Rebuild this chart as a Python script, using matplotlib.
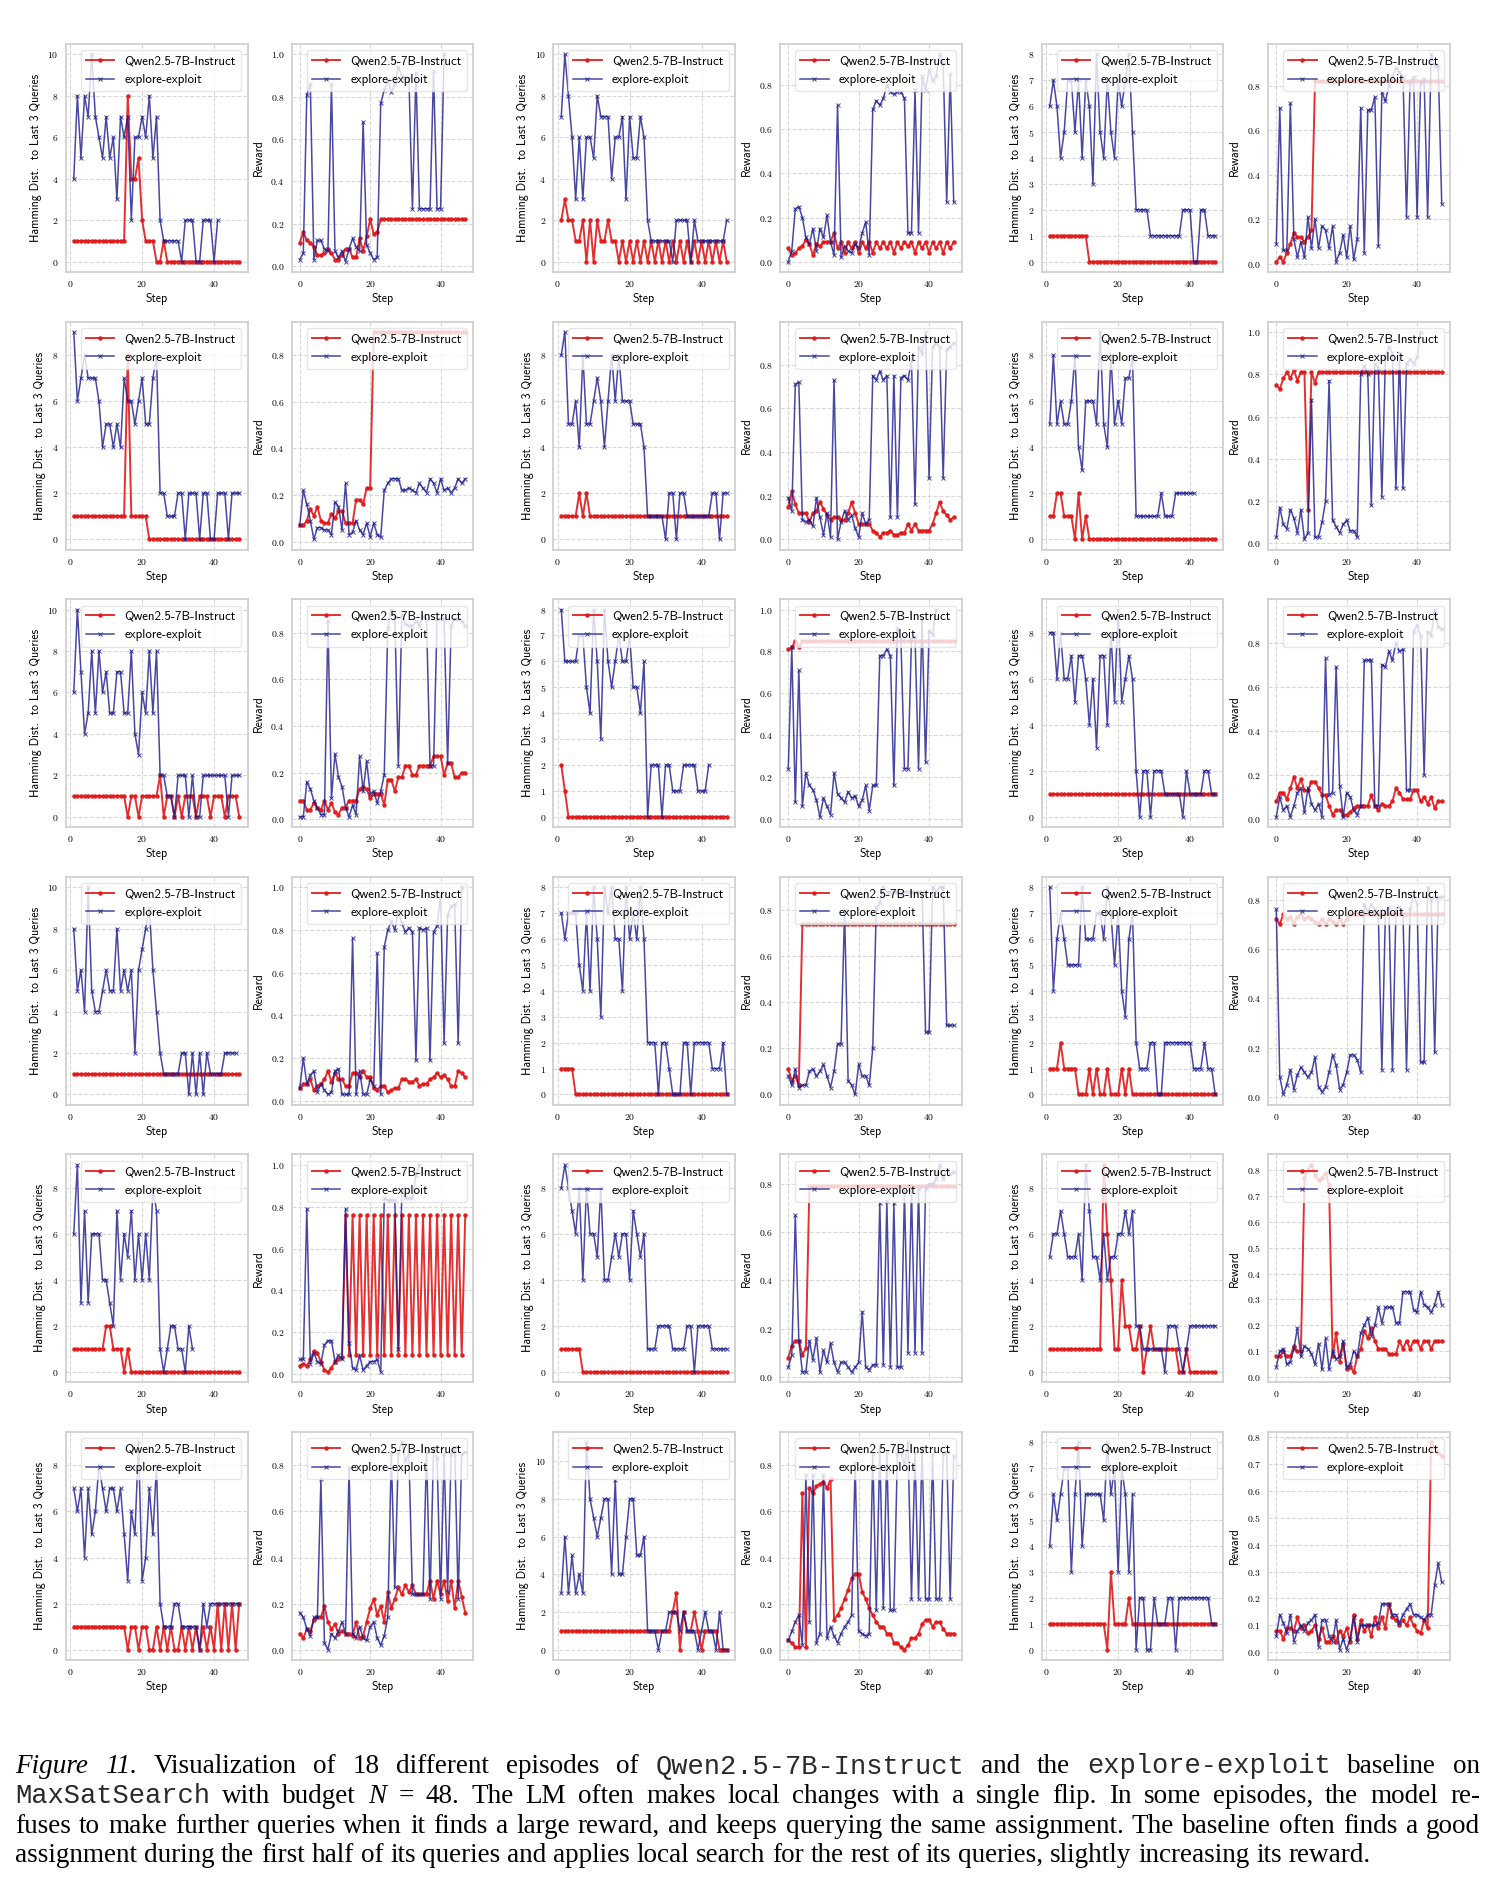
import matplotlib
matplotlib.use("Agg")
import matplotlib.pyplot as plt
from matplotlib.ticker import MultipleLocator

# ---------------------------------------------------------------
# data: 18 episodes, each with a Hamming panel
# (steps 1..47) and a reward panel (steps 0..47)
# lm = Qwen2.5-7B-Instruct, ee = explore-exploit baseline
# ---------------------------------------------------------------
ep01_ham_lm = [1,1,1,1,1,1,1,1,1,1,1,1,1,1,1,8,4,4,5,2,1,1,1,0,0,1,0,0,0,0,0,0,0,0,0,0,0,0,0,0,0,0,0,0,0,0,0]
ep01_ham_ee = [4,8,5,8,7,10,7,6,5,7,5,6,3,7,6,7,2,6,6,7,6,8,5,7,2,1,1,1,1,1,0,2,2,2,0,0,2,2,2,0,2]
ep01_rew_lm = [0.11,0.16,0.12,0.11,0.09,0.05,0.05,0.06,0.08,0.06,0.03,0.03,0.05,0.08,0.08,0.04,0.04,0.13,0.07,0.14,
               0.22,0.15,0.16,0.22,0.22,0.22,0.22,0.22,0.22,0.22,0.22,0.22,0.22,0.22,0.22,0.22,0.22,0.22,0.22,0.22,
               0.22,0.22,0.22,0.22,0.22,0.22,0.22,0.22]
ep01_rew_ee = [0.03,0.06,0.81,0.86,0.03,0.12,0.12,0.08,0.07,0.86,0.07,0.04,0.07,0.02,0.08,0.13,0.09,0.07,0.68,0.10,
               0.06,0.03,0.04,0.77,0.83,0.88,0.82,0.86,0.94,0.90,0.89,0.89,0.27,0.91,0.27,0.27,0.27,0.27,0.92,0.27,
               0.27,1.00]

ep02_ham_lm = [2,3,2,2,1,1,2,0,2,0,2,1,1,2,1,1,0,1,0,1,0,1,0,1,0,1,0,1,0,1,0,1,0,1,0,1,0,1,0,1,0,1,0,1,0,1,0]
ep02_ham_ee = [7,10,8,6,3,6,3,6,6,5,8,7,7,7,4,6,6,7,3,7,5,5,7,6,2,1,1,1,1,1,1,0,2,2,2,2,0,2,1,1,1,1,1,1,1,1,2]
ep02_rew_lm = [0.06,0.03,0.04,0.06,0.07,0.10,0.08,0.03,0.08,0.07,0.09,0.09,0.09,0.13,0.06,0.09,0.04,0.09,0.06,0.09,
               0.04,0.09,0.06,0.09,0.04,0.09,0.06,0.09,0.06,0.09,0.04,0.09,0.06,0.09,0.07,0.09,0.04,0.09,0.06,0.09,
               0.04,0.09,0.06,0.09,0.04,0.09,0.06,0.09]
ep02_rew_ee = [0.00,0.05,0.24,0.25,0.20,0.11,0.08,0.15,0.05,0.15,0.11,0.21,0.09,0.03,0.71,0.02,0.07,0.05,0.04,0.08,
               0.06,0.13,0.18,0.03,0.69,0.73,0.71,0.74,0.80,0.77,0.76,0.77,0.77,0.74,0.13,0.13,0.78,0.13,0.84,0.78,
               0.87,0.82,0.84,0.94,0.90,0.27,0.85,0.27]

ep03_ham_lm = [1,1,1,1,1,1,1,1,1,1,1,0,0,0,0,0,0,0,0,0,0,0,0,0,0,0,0,0,0,0,0,0,0,0,0,0,0,0,0,0,0,0,0,0,0,0,0]
ep03_ham_ee = [6,7,6,4,5,7,7,5,7,4,7,6,3,8,5,4,7,5,4,7,6,7,8,5,2,2,2,2,1,1,1,1,1,1,1,1,1,2,2,2,0,0,2,2,1,1,1]
ep03_rew_lm = [0.01,0.03,0.01,0.05,0.09,0.14,0.12,0.12,0.10,0.12,0.15,0.82,0.82,0.82,0.82,0.82,0.82,0.82,0.82,0.82,
               0.82,0.82,0.82,0.82,0.82,0.82,0.82,0.82,0.82,0.82,0.82,0.82,0.82,0.82,0.82,0.82,0.82,0.82,0.82,0.82,
               0.82,0.82,0.82,0.82,0.82,0.82,0.82,0.82]
ep03_rew_ee = [0.09,0.70,0.06,0.06,0.72,0.11,0.03,0.10,0.03,0.21,0.07,0.20,0.07,0.17,0.15,0.07,0.17,0.01,0.05,0.13,
               0.03,0.17,0.02,0.11,0.70,0.05,0.69,0.69,0.75,0.08,0.77,0.73,0.80,0.84,0.88,0.86,0.84,0.21,0.81,0.84,
               0.21,0.81,0.83,0.21,0.94,0.89,0.89,0.27]

ep04_ham_lm = [1,1,1,1,1,1,1,1,1,1,1,1,1,1,1,8,1,1,1,1,1,0,0,0,0,0,0,0,0,0,0,0,0,0,0,0,0,0,0,0,0,0,0,0,0,0,0]
ep04_ham_ee = [9,6,7,8,7,7,7,6,4,5,5,4,5,4,7,6,6,5,6,7,5,5,7,8,2,2,1,1,1,2,2,0,2,2,2,0,2,2,0,0,2,2,2,0,2,2,2]
ep04_rew_lm = [0.07,0.07,0.09,0.14,0.11,0.15,0.09,0.08,0.08,0.12,0.10,0.13,0.13,0.08,0.08,0.08,0.18,0.18,0.16,0.23,
               0.23,0.90,0.90,0.90,0.90,0.90,0.90,0.90,0.90,0.90,0.90,0.90,0.90,0.90,0.90,0.90,0.90,0.90,0.90,0.90,
               0.90,0.90,0.90,0.90,0.90,0.90,0.90,0.90]
ep04_rew_ee = [0.07,0.22,0.16,0.09,0.01,0.06,0.06,0.05,0.05,0.03,0.17,0.15,0.05,0.25,0.03,0.04,0.09,0.05,0.03,0.08,
               0.02,0.08,0.03,0.02,0.22,0.25,0.27,0.27,0.27,0.22,0.22,0.23,0.22,0.21,0.25,0.23,0.21,0.27,0.25,0.21,
               0.27,0.22,0.23,0.21,0.23,0.27,0.25,0.27]

ep05_ham_lm = [1,1,1,1,1,2,1,2,1,1,1,1,1,1,1,1,1,1,1,1,1,1,1,1,1,1,1,1,1,1,1,1,1,1,1,1,1,1,1,1,1,1,1,1,1,1,1]
ep05_ham_ee = [8,9,5,5,6,4,8,5,5,6,7,6,4,6,8,6,8,6,6,6,5,5,5,4,1,1,1,1,1,0,2,2,0,2,2,1,1,1,1,1,1,1,2,2,0,2,2]
ep05_rew_lm = [0.15,0.22,0.16,0.12,0.12,0.12,0.08,0.12,0.13,0.17,0.14,0.11,0.09,0.10,0.10,0.09,0.09,0.12,0.17,0.12,
               0.07,0.07,0.07,0.07,0.04,0.03,0.01,0.03,0.03,0.04,0.02,0.02,0.03,0.03,0.07,0.04,0.07,0.04,0.04,0.04,
               0.04,0.07,0.12,0.17,0.13,0.11,0.09,0.10]
ep05_rew_ee = [0.19,0.13,0.71,0.72,0.09,0.08,0.09,0.06,0.19,0.10,0.02,0.12,0.01,0.73,0.00,0.08,0.13,0.09,0.11,0.05,
               0.01,0.12,0.07,0.09,0.75,0.73,0.77,0.73,0.75,0.10,0.75,0.10,0.74,0.75,0.73,0.82,0.16,0.88,0.85,0.95,
               0.28,0.88,0.90,0.88,0.28,0.87,0.88,0.90]

ep06_ham_lm = [1,1,2,2,1,1,1,0,2,0,1,0,0,0,0,0,0,0,0,0,0,0,0,0,0,0,0,0,0,0,0,0,0,0,0,0,0,0,0,0,0,0,0,0,0,0,0]
ep06_ham_ee = [5,8,5,6,5,5,6,8,4,3,6,6,6,5,9,5,4,8,5,6,5,7,7,8,1,1,1,1,1,1,1,2,1,1,1,2,2,2,2,2,2]
ep06_rew_lm = [0.75,0.73,0.78,0.81,0.78,0.82,0.77,0.81,0.81,0.16,0.81,0.76,0.81,0.81,0.81,0.81,0.81,0.81,0.81,0.81,
               0.81,0.81,0.81,0.81,0.81,0.81,0.81,0.81,0.81,0.81,0.81,0.81,0.81,0.81,0.81,0.81,0.81,0.81,0.81,0.81,
               0.81,0.81,0.81,0.81,0.81,0.81,0.81,0.81]
ep06_rew_ee = [0.03,0.17,0.09,0.07,0.16,0.12,0.05,0.16,0.02,0.05,0.68,0.03,0.03,0.10,0.20,0.77,0.11,0.08,0.05,0.09,
               0.11,0.06,0.06,0.03,0.80,0.84,0.80,0.18,0.85,0.83,0.22,0.88,0.93,0.90,0.26,0.90,0.26,0.85,0.87,0.85,
               0.88,1.00]

ep07_ham_lm = [1,1,1,1,1,1,1,1,1,1,1,1,1,1,1,0,1,1,0,1,1,1,1,1,2,0,1,1,0,1,0,1,1,1,0,1,1,1,0,1,1,1,0,1,1,1,0]
ep07_ham_ee = [6,10,7,4,5,8,5,8,6,7,5,5,7,7,5,5,8,4,3,6,5,8,5,8,2,2,1,1,0,2,2,2,0,2,0,0,2,2,2,2,2,2,2,0,2,2,2]
ep07_rew_lm = [0.08,0.08,0.04,0.04,0.07,0.05,0.04,0.08,0.04,0.07,0.03,0.02,0.05,0.05,0.08,0.08,0.08,0.13,0.14,0.13,
               0.09,0.11,0.11,0.11,0.06,0.17,0.17,0.12,0.18,0.18,0.23,0.23,0.19,0.19,0.23,0.23,0.23,0.23,0.27,0.27,
               0.27,0.19,0.24,0.24,0.18,0.18,0.20,0.20]
ep07_rew_ee = [0.01,0.01,0.16,0.13,0.08,0.05,0.02,0.02,0.85,0.09,0.28,0.18,0.14,0.05,0.01,0.06,0.02,0.27,0.12,0.25,
               0.11,0.12,0.07,0.12,0.19,0.82,0.90,0.87,0.23,0.88,0.84,0.83,0.83,0.85,0.83,0.87,0.86,0.23,0.23,0.86,
               0.86,0.86,0.24,0.83,0.86,0.86,0.85,0.83]

ep08_ham_lm = [2,1,0,0,0,0,0,0,0,0,0,0,0,0,0,0,0,0,0,0,0,0,0,0,0,0,0,0,0,0,0,0,0,0,0,0,0,0,0,0,0,0,0,0,0,0,0]
ep08_ham_ee = [8,6,6,6,6,7,7,5,4,8,6,3,8,6,5,6,7,6,6,7,5,5,4,6,0,2,2,2,0,2,2,1,1,1,2,2,2,2,1,1,1,2]
ep08_rew_lm = [0.81,0.82,0.85,0.82,0.85,0.85,0.85,0.85,0.85,0.85,0.85,0.85,0.85,0.85,0.85,0.85,0.85,0.85,0.85,0.85,
               0.85,0.85,0.85,0.85,0.85,0.85,0.85,0.85,0.85,0.85,0.85,0.85,0.85,0.85,0.85,0.85,0.85,0.85,0.85,0.85,
               0.85,0.85,0.85,0.85,0.85,0.85,0.85,0.85]
ep08_rew_ee = [0.24,0.82,0.08,0.71,0.06,0.22,0.16,0.14,0.09,0.01,0.10,0.06,0.02,0.22,0.12,0.10,0.08,0.13,0.10,0.11,
               0.06,0.09,0.16,0.04,0.16,0.16,0.78,0.78,0.81,0.78,0.16,0.91,0.86,0.24,0.24,0.86,0.87,0.24,0.95,0.27,
               0.90,0.88,1.00]

ep09_ham_lm = [1,1,1,1,1,1,1,1,1,1,1,1,1,1,1,1,1,1,1,1,1,1,1,1,1,1,1,1,1,1,1,1,1,1,1,1,1,1,1,1,1,1,1,1,1,1,1]
ep09_ham_ee = [8,8,6,8,6,6,7,5,7,7,6,4,6,3,7,7,4,8,5,9,5,6,7,6,2,0,2,2,0,2,2,2,1,1,1,1,1,0,2,1,1,1,1,2,2,1,1]
ep09_rew_lm = [0.08,0.12,0.12,0.09,0.14,0.19,0.14,0.18,0.13,0.13,0.17,0.17,0.14,0.11,0.11,0.06,0.02,0.04,0.04,0.02,
               0.02,0.03,0.05,0.06,0.06,0.06,0.06,0.11,0.06,0.04,0.07,0.06,0.06,0.08,0.14,0.12,0.09,0.09,0.09,0.13,
               0.13,0.08,0.10,0.07,0.10,0.05,0.08,0.08]
ep09_rew_ee = [0.01,0.10,0.04,0.06,0.01,0.06,0.12,0.14,0.03,0.14,0.07,0.04,0.07,0.01,0.73,0.11,0.12,0.69,0.15,0.01,
               0.12,0.10,0.04,0.02,0.06,0.72,0.72,0.72,0.06,0.06,0.70,0.69,0.76,0.72,0.80,0.76,0.77,0.13,0.13,0.85,
               0.88,0.83,0.20,0.85,0.83,0.95,0.87,0.86]

ep10_ham_lm = [1,1,1,1,1,1,1,1,1,1,1,1,1,1,1,1,1,1,1,1,1,1,1,1,1,1,1,1,1,1,1,1,1,1,1,1,1,1,1,1,1,1,1,1,1,1,1]
ep10_ham_ee = [8,5,6,4,10,5,4,4,5,6,5,5,8,5,6,5,6,2,6,7,8,9,6,4,2,1,1,1,1,1,2,2,0,2,0,2,0,2,1,1,1,1,2,2,2,2]
ep10_rew_lm = [0.06,0.08,0.08,0.10,0.05,0.07,0.08,0.10,0.14,0.09,0.13,0.10,0.10,0.07,0.07,0.13,0.13,0.11,0.14,0.11,
               0.11,0.06,0.05,0.07,0.07,0.04,0.05,0.06,0.06,0.10,0.10,0.09,0.09,0.10,0.07,0.08,0.08,0.10,0.11,0.13,
               0.11,0.12,0.10,0.07,0.07,0.14,0.13,0.11]
ep10_rew_ee = [0.06,0.20,0.08,0.12,0.14,0.04,0.08,0.05,0.03,0.04,0.14,0.15,0.03,0.03,0.03,0.76,0.03,0.14,0.03,0.03,
               0.10,0.07,0.69,0.03,0.72,0.80,0.84,0.80,0.89,0.83,0.79,0.81,0.79,0.19,0.81,0.80,0.81,0.19,0.79,0.82,
               0.96,0.27,0.87,0.91,0.92,0.27,1.00]

ep11_ham_lm = [1,1,1,1,0,0,0,0,0,0,0,0,0,0,0,0,0,0,0,0,0,0,0,0,0,0,0,0,0,0,0,0,0,0,0,0,0,0,0,0,0,0,0,0,0,0,0]
ep11_ham_ee = [7,6,7,7,7,5,4,7,4,8,6,3,8,7,8,6,6,4,8,6,7,6,8,6,2,2,2,0,2,2,1,0,0,0,2,2,0,2,2,2,2,2,1,1,1,2,0]
ep11_rew_lm = [0.11,0.06,0.08,0.04,0.74,0.74,0.74,0.74,0.74,0.74,0.74,0.74,0.74,0.74,0.74,0.74,0.74,0.74,0.74,0.74,
               0.74,0.74,0.74,0.74,0.74,0.74,0.74,0.74,0.74,0.74,0.74,0.74,0.74,0.74,0.74,0.74,0.74,0.74,0.74,0.74,
               0.74,0.74,0.74,0.74,0.74,0.74,0.74,0.74]
ep11_rew_ee = [0.08,0.04,0.11,0.03,0.04,0.04,0.10,0.11,0.08,0.10,0.13,0.08,0.03,0.10,0.22,0.22,0.80,0.06,0.04,0.00,
               0.13,0.08,0.08,0.04,0.20,0.81,0.83,0.90,0.88,0.88,0.88,0.88,0.87,0.88,0.88,0.88,0.88,0.88,0.88,0.27,
               0.27,0.90,0.88,0.90,0.90,0.30,0.30,0.30]

ep12_ham_lm = [1,1,1,2,1,1,1,1,0,0,0,1,0,1,0,0,1,0,0,0,1,0,1,0,0,0,0,0,0,0,0,0,0,0,0,0,0,0,0,0,0,0,0,0,0,0,0]
ep12_ham_ee = [8,4,6,7,6,5,5,5,5,8,6,6,6,7,7,6,8,7,5,7,4,3,6,7,2,1,1,1,2,2,0,0,2,2,2,2,2,2,2,2,1,1,1,2,1,1,0]
ep12_rew_lm = [0.72,0.70,0.74,0.72,0.73,0.70,0.73,0.74,0.72,0.73,0.72,0.71,0.70,0.72,0.70,0.72,0.71,0.70,0.72,0.70,
               0.72,0.74,0.74,0.74,0.74,0.74,0.74,0.74,0.74,0.74,0.74,0.74,0.74,0.74,0.74,0.74,0.74,0.74,0.74,0.74,
               0.74,0.74,0.74,0.74,0.74,0.74,0.74,0.74]
ep12_rew_ee = [0.76,0.08,0.01,0.05,0.11,0.03,0.09,0.12,0.10,0.08,0.10,0.16,0.04,0.02,0.04,0.10,0.17,0.13,0.03,0.05,
               0.10,0.17,0.17,0.15,0.10,0.78,0.75,0.78,0.76,0.73,0.11,0.75,0.77,0.11,0.76,0.77,0.74,0.11,0.76,0.82,
               0.78,0.14,0.14,0.85,0.80,0.18,0.81,0.81]

ep13_ham_lm = [1,1,1,1,1,1,1,1,1,2,2,1,1,1,0,1,0,0,0,0,0,0,0,0,0,0,0,0,0,0,0,0,0,0,0,0,0,0,0,0,0,0,0,0,0,0,0]
ep13_ham_ee = [6,9,3,7,3,6,6,6,4,4,3,2,7,4,6,5,7,4,6,4,6,4,8,7,1,0,1,2,2,1,1,0,2,1]
ep13_rew_lm = [0.04,0.05,0.04,0.07,0.11,0.10,0.06,0.02,0.01,0.03,0.06,0.07,0.08,0.76,0.09,0.76,0.09,0.76,0.09,0.76,
               0.09,0.76,0.09,0.76,0.09,0.76,0.09,0.76,0.09,0.76,0.09,0.76,0.09,0.76,0.09,0.76,0.09,0.76,0.09,0.76,
               0.09,0.76,0.09,0.76,0.09,0.76,0.09,0.76]
ep13_rew_ee = [0.07,0.07,0.79,0.05,0.10,0.06,0.05,0.14,0.16,0.16,0.06,0.09,0.07,0.79,0.15,0.03,0.02,0.09,0.02,0.04,
               0.06,0.06,0.07,0.01,0.84,0.83,0.83,0.83,0.12,0.88,0.84,0.84,0.84,0.95,1.00]

ep14_ham_lm = [1,1,1,1,1,1,0,0,0,0,0,0,0,0,0,0,0,0,0,0,0,0,0,0,0,0,0,0,0,0,0,0,0,0,0,0,0,0,0,0,0,0,0,0,0,0,0]
ep14_ham_ee = [8,9,8,7,6,8,4,8,6,6,5,8,4,4,5,6,5,6,6,4,7,6,5,6,1,1,1,2,2,2,2,1,1,1,1,2,2,0,2,2,2,2,1,1,1,1,1]
ep14_rew_lm = [0.08,0.13,0.15,0.15,0.09,0.12,0.79,0.79,0.79,0.79,0.79,0.79,0.79,0.79,0.79,0.79,0.79,0.79,0.79,0.79,
               0.79,0.79,0.79,0.79,0.79,0.79,0.79,0.79,0.79,0.79,0.79,0.79,0.79,0.79,0.79,0.79,0.79,0.79,0.79,0.79,
               0.79,0.79,0.79,0.79,0.79,0.79,0.79,0.79]
ep14_rew_ee = [0.04,0.09,0.67,0.15,0.02,0.02,0.15,0.07,0.16,0.02,0.11,0.06,0.14,0.06,0.02,0.06,0.06,0.04,0.02,0.04,
               0.06,0.27,0.04,0.03,0.05,0.05,0.72,0.05,0.73,0.04,0.72,0.04,0.04,0.77,0.10,0.78,0.10,0.78,0.10,0.78,
               0.80,0.80,0.82,0.88,0.82,0.86,0.84,0.85]

ep15_ham_lm = [1,1,1,1,1,1,1,1,1,1,1,1,1,1,1,9,6,4,1,1,4,2,2,1,1,2,0,1,2,1,1,1,1,1,1,1,0,0,1,0,0,0,0,0,0,0,0]
ep15_ham_ee = [5,6,6,7,6,5,5,5,6,4,9,7,5,5,4,6,4,5,5,6,6,7,6,7,2,2,1,1,1,1,1,1,0,2,2,2,1,0,1,2,2,2,2,2,2,2,2]
ep15_rew_lm = [0.08,0.08,0.10,0.08,0.08,0.12,0.10,0.10,0.77,0.80,0.82,0.78,0.76,0.77,0.79,0.74,0.08,0.17,0.06,0.13,
               0.03,0.04,0.02,0.08,0.11,0.18,0.15,0.19,0.14,0.11,0.11,0.11,0.09,0.09,0.09,0.14,0.11,0.14,0.11,0.14,
               0.14,0.11,0.14,0.14,0.11,0.14,0.14,0.14]
ep15_rew_ee = [0.04,0.10,0.11,0.05,0.06,0.11,0.19,0.08,0.12,0.11,0.09,0.05,0.13,0.03,0.15,0.03,0.10,0.07,0.08,0.14,
               0.04,0.05,0.10,0.08,0.17,0.20,0.23,0.16,0.20,0.27,0.21,0.27,0.27,0.27,0.21,0.21,0.33,0.33,0.33,0.26,
               0.25,0.33,0.28,0.27,0.25,0.28,0.33,0.28]

ep16_ham_lm = [1,1,1,1,1,1,1,1,1,1,1,1,1,1,1,0,1,1,0,1,1,0,0,1,0,1,0,1,0,0,1,0,1,0,1,0,1,0,1,0,2,0,2,0,2,0,2]
ep16_ham_ee = [7,6,7,4,7,5,6,8,7,6,7,7,6,7,5,3,6,5,9,3,4,7,5,8,2,1,1,1,2,2,1,1,1,1,1,0,2,1,2,2,2,2,2,2,2,2,2]
ep16_rew_lm = [0.07,0.05,0.09,0.08,0.13,0.14,0.14,0.19,0.12,0.09,0.11,0.07,0.08,0.07,0.07,0.06,0.12,0.05,0.06,0.12,
               0.18,0.22,0.15,0.19,0.12,0.25,0.18,0.22,0.27,0.24,0.28,0.25,0.28,0.24,0.24,0.24,0.24,0.30,0.22,0.30,
               0.24,0.30,0.21,0.30,0.18,0.30,0.23,0.16]
ep16_rew_ee = [0.16,0.14,0.09,0.06,0.14,0.14,0.74,0.03,0.00,0.07,0.05,0.08,0.12,0.07,0.79,0.07,0.05,0.10,0.05,0.04,
               0.10,0.12,0.05,0.02,0.06,0.14,0.85,0.27,0.86,0.90,0.82,0.85,0.24,0.24,0.24,0.24,0.86,0.22,0.87,0.83,
               0.22,0.85,0.25,0.85,0.88,0.22,0.85,0.86]

ep17_ham_lm = [1,1,1,1,1,1,1,1,1,1,1,1,1,1,1,1,1,1,1,1,1,1,1,1,1,1,1,1,1,1,1,2,3,0,2,1,1,2,1,0,1,1,1,1,0,0,0]
ep17_ham_ee = [3,6,3,5,3,4,3,11,8,7,6,7,8,8,4,9,4,4,6,8,8,5,5,6,1,1,1,0,1,1,2,2,2,1,2,1,1,1,0,1,2,1,1,0,2,0,0]
ep17_rew_lm = [0.04,0.03,0.01,0.01,0.68,0.01,0.70,0.68,0.71,0.72,0.73,0.70,0.74,0.13,0.15,0.18,0.22,0.26,0.31,0.33,
               0.33,0.25,0.22,0.18,0.15,0.12,0.10,0.10,0.07,0.07,0.03,0.03,0.01,0.00,0.02,0.05,0.05,0.07,0.11,0.13,
               0.13,0.10,0.12,0.12,0.09,0.07,0.07,0.07]
ep17_rew_ee = [0.04,0.08,0.12,0.15,0.02,0.76,0.12,0.76,0.03,0.07,0.76,0.05,0.10,0.06,0.03,0.07,0.10,0.12,0.15,0.81,
               0.08,0.07,0.06,0.07,0.85,0.17,0.88,0.18,0.86,0.17,0.17,0.85,0.86,0.80,0.90,0.22,0.86,0.22,0.88,0.22,
               0.22,0.85,0.22,0.22,0.85,0.86,0.22,0.84]

ep18_ham_lm = [1,1,1,1,1,1,1,1,1,1,1,1,1,1,1,1,0,3,1,1,1,1,2,1,1,1,1,1,1,1,1,1,1,1,1,1,1,1,1,1,1,1,1,1,1,1,1]
ep18_ham_ee = [4,6,5,6,7,7,3,6,8,4,6,6,6,6,6,5,8,6,7,3,7,6,3,6,0,2,2,0,0,2,1,1,1,2,2,0,2,2,2,2,2,2,2,2,2,1,1]
ep18_rew_lm = [0.08,0.08,0.05,0.09,0.09,0.08,0.13,0.09,0.10,0.07,0.08,0.10,0.05,0.09,0.04,0.04,0.06,0.04,0.08,0.06,
               0.09,0.04,0.14,0.05,0.12,0.08,0.10,0.06,0.13,0.09,0.13,0.09,0.18,0.13,0.12,0.10,0.12,0.10,0.13,0.10,
               0.08,0.07,0.12,0.09,0.78,0.76,0.74,0.73]
ep18_rew_ee = [0.06,0.14,0.11,0.07,0.14,0.04,0.08,0.10,0.08,0.11,0.12,0.14,0.02,0.12,0.12,0.06,0.04,0.12,0.01,0.05,
               0.01,0.05,0.13,0.04,0.10,0.10,0.10,0.10,0.10,0.11,0.18,0.18,0.18,0.14,0.14,0.11,0.14,0.16,0.18,0.14,
               0.14,0.13,0.12,0.14,0.14,0.25,0.33,0.26]

episodes = [
    (ep01_ham_lm, ep01_ham_ee, ep01_rew_lm, ep01_rew_ee),
    (ep02_ham_lm, ep02_ham_ee, ep02_rew_lm, ep02_rew_ee),
    (ep03_ham_lm, ep03_ham_ee, ep03_rew_lm, ep03_rew_ee),
    (ep04_ham_lm, ep04_ham_ee, ep04_rew_lm, ep04_rew_ee),
    (ep05_ham_lm, ep05_ham_ee, ep05_rew_lm, ep05_rew_ee),
    (ep06_ham_lm, ep06_ham_ee, ep06_rew_lm, ep06_rew_ee),
    (ep07_ham_lm, ep07_ham_ee, ep07_rew_lm, ep07_rew_ee),
    (ep08_ham_lm, ep08_ham_ee, ep08_rew_lm, ep08_rew_ee),
    (ep09_ham_lm, ep09_ham_ee, ep09_rew_lm, ep09_rew_ee),
    (ep10_ham_lm, ep10_ham_ee, ep10_rew_lm, ep10_rew_ee),
    (ep11_ham_lm, ep11_ham_ee, ep11_rew_lm, ep11_rew_ee),
    (ep12_ham_lm, ep12_ham_ee, ep12_rew_lm, ep12_rew_ee),
    (ep13_ham_lm, ep13_ham_ee, ep13_rew_lm, ep13_rew_ee),
    (ep14_ham_lm, ep14_ham_ee, ep14_rew_lm, ep14_rew_ee),
    (ep15_ham_lm, ep15_ham_ee, ep15_rew_lm, ep15_rew_ee),
    (ep16_ham_lm, ep16_ham_ee, ep16_rew_lm, ep16_rew_ee),
    (ep17_ham_lm, ep17_ham_ee, ep17_rew_lm, ep17_rew_ee),
    (ep18_ham_lm, ep18_ham_ee, ep18_rew_lm, ep18_rew_ee),
]

LM_LABEL = "Qwen2.5-7B-Instruct"
EE_LABEL = "explore-exploit"
HAM_YLABEL = "Hamming Dist.  to Last 3 Queries"
REW_YLABEL = "Reward"
# reward panels that use 0.1 spacing on the y axis
fine_reward_ticks = [14, 17]

caption_lines = [
    [("Figure 11.", "it"), ("Visualization of 18 different episodes of", "rm"), ("Qwen2.5-7B-Instruct", "tt"),
     ("and the", "rm"), ("explore-exploit", "tt"), ("baseline on", "rm")],
    [("MaxSatSearch", "tt"), ("with budget", "rm"), ("N", "it"),
     ("= 48.  The LM often makes local changes with a single flip.  In some episodes, the model re-", "rm")],
    [("fuses to make further queries when it finds a large reward, and keeps querying the same assignment. "
      "The baseline often finds a good", "rm")],
    [("assignment during the first half of its queries and applies local search for the rest of its queries, "
      "slightly increasing its reward.", "rm")],
]

# ---------------------------------------------------------------
RED = "#e01a1a"
BLUE = "#1a1a8c"
SANS = "cmss10"
SERIF = "cmr10"

plt.rcParams.update({
    "axes.edgecolor": "#d0d0d0",
    "axes.linewidth": 1.3,
    "axes.grid": True,
    "grid.color": "#d8d8d8",
    "grid.linestyle": "--",
    "grid.linewidth": 0.8,
    "xtick.major.size": 0,
    "ytick.major.size": 0,
    "xtick.major.pad": 5,
    "ytick.major.pad": 5,
    "axes.formatter.use_mathtext": True,
})

W, H = 1495, 1885
fig = plt.figure(figsize=(W / 100, H / 100), dpi=100)

col_left = [65.5, 291.5, 553, 780, 1041.5, 1268]
row_top0, row_step = 44, 277.6
ax_w, ax_h = 182, 228


def make_axes(px_left, px_top):
    return fig.add_axes([px_left / W, 1 - (px_top + ax_h) / H, ax_w / W, ax_h / H])


def style_axes(ax, ylabel, ystep):
    ax.xaxis.set_major_locator(MultipleLocator(20))
    ax.yaxis.set_major_locator(MultipleLocator(ystep))
    for lab in ax.get_xticklabels() + ax.get_yticklabels():
        lab.set_family(SERIF)
        lab.set_fontsize(7)
    ax.set_xlabel("Step", family=SANS, fontsize=8.5, labelpad=3)
    ax.set_ylabel(ylabel, family=SANS, fontsize=8.5, labelpad=4)
    ax.legend(loc="upper right", prop={"family": SANS, "size": 9.3}, framealpha=0.8,
              edgecolor="#e0e0e0", borderaxespad=0.5, handlelength=2.2)


def plot_pair(ax, x_lm, y_lm, x_ee, y_ee):
    ax.plot(x_lm, y_lm, "-", marker=".", color=RED, lw=1.4, ms=4.5, alpha=0.9, label=LM_LABEL)
    ax.plot(x_ee, y_ee, "-", marker="x", color=BLUE, lw=1.1, ms=2.2, mew=0.7, alpha=0.8, label=EE_LABEL)


for k, (ham_lm, ham_ee, rew_lm, rew_ee) in enumerate(episodes):
    row, pair = divmod(k, 3)
    top = row_top0 + row * row_step

    ax = make_axes(col_left[2 * pair], top)
    plot_pair(ax, range(1, len(ham_lm) + 1), ham_lm, range(1, len(ham_ee) + 1), ham_ee)
    ystep = 1 if max(ham_lm + ham_ee) <= 8 else 2
    style_axes(ax, HAM_YLABEL, ystep)

    ax = make_axes(col_left[2 * pair + 1], top)
    plot_pair(ax, range(len(rew_lm)), rew_lm, range(len(rew_ee)), rew_ee)
    style_axes(ax, REW_YLABEL, 0.1 if k in fine_reward_ticks else 0.2)

# ---------------------------------------------------------------
# caption, justified word by word
CAP_SIZE = 19.5
cap_fonts = {
    "rm": dict(family="Liberation Serif"),
    "it": dict(family="Liberation Serif", style="italic"),
    "tt": dict(family="Liberation Mono", color="#2a2a2a"),
}
renderer = fig.canvas.get_renderer()
cap_x0, cap_x1 = 15, 1480
cap_base = [1773, 1803, 1833, 1862]

space_t = fig.text(0, 0, "a a", fontsize=CAP_SIZE, **cap_fonts["rm"])
aa_t = fig.text(0, 0, "aa", fontsize=CAP_SIZE, **cap_fonts["rm"])
space_w = space_t.get_window_extent(renderer).width - aa_t.get_window_extent(renderer).width
space_t.remove()
aa_t.remove()

for i, segs in enumerate(caption_lines):
    words = []
    for text, st in segs:
        for w in text.split():
            words.append((w, st))
    objs = [fig.text(0, 1 - cap_base[i] / H, w, fontsize=CAP_SIZE, va="baseline", ha="left", **cap_fonts[st])
            for w, st in words]
    widths = [t.get_window_extent(renderer).width for t in objs]
    last = i == len(caption_lines) - 1
    gap = space_w if last else (cap_x1 - cap_x0 - sum(widths)) / (len(objs) - 1)
    x = cap_x0
    for t, w in zip(objs, widths):
        t.set_x(x / W)
        x += w + gap

fig.savefig("out.png", dpi=100)
